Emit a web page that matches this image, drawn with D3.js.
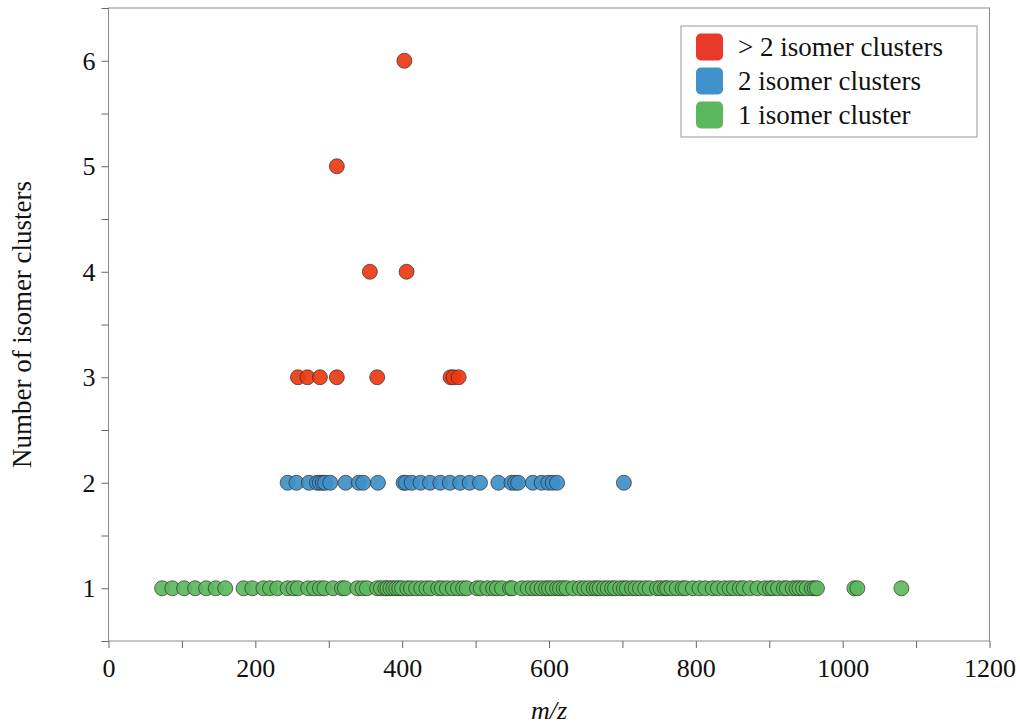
<!DOCTYPE html>
<html>
<head>
<meta charset="utf-8">
<script src="https://d3js.org/d3.v7.min.js"></script>
<style>
    body { margin: 0; background: #fff; }
    svg text { font-family: "Liberation Serif", "DejaVu Serif", serif; fill: #111; }
</style>
</head>
<body>
<svg id="chart" width="1020" height="727"></svg>
<script>
    // m/z values per number of isomer clusters
    var oneCluster = [73, 87, 103, 118, 133, 146, 159, 184, 196, 211, 220, 230, 244, 252, 258, 272, 280, 288, 294,
        306, 318, 322, 339, 346, 352, 366, 371, 377, 380, 384, 388, 392, 396, 400, 407, 412, 419, 426, 433, 439,
        449, 454, 461, 469, 476, 483, 488, 502, 507, 516, 524, 529, 536, 547, 550, 563, 571, 578, 584, 590, 596,
        600, 605, 611, 615, 620, 624, 633, 642, 648, 654, 661, 665, 669, 675, 680, 686, 690, 697, 702, 706, 713,
        718, 724, 731, 737, 747, 752, 758, 761, 767, 774, 782, 786, 796, 805, 813, 823, 830, 839, 846, 852, 860,
        865, 874, 884, 894, 901, 905, 912, 920, 924, 932, 937, 941, 946, 951, 958, 962, 965, 1016, 1020, 1080];
    var twoClusters = [244, 256, 273, 284, 288, 292, 295, 302, 323, 341, 347, 367, 402, 405, 413, 425, 438, 452,
        465, 479, 492, 506, 531, 549, 554, 558, 578, 590, 599, 605, 611, 702];
    var moreClusters = [
        { mz: 258, n: 3 }, { mz: 271, n: 3 }, { mz: 288, n: 3 }, { mz: 311, n: 3 }, { mz: 366, n: 3 },
        { mz: 466, n: 3 }, { mz: 470, n: 3 }, { mz: 477, n: 3 },
        { mz: 356, n: 4 }, { mz: 406, n: 4 },
        { mz: 311, n: 5 },
        { mz: 403, n: 6 }
    ];
    var xTicks = [0, 200, 400, 600, 800, 1000, 1200];
    var yTicks = [1, 2, 3, 4, 5, 6];
    var legendLabels = ["> 2 isomer clusters", "2 isomer clusters", "1 isomer cluster"];
    var legendColors = ["#e8392b", "#4192cc", "#5cb85c"];

    var svg = d3.select("#chart");
    var plotLeft = 108.5, plotRight = 989.5, plotTop = 8, plotBottom = 641;

    var x = d3.scaleLinear().domain([0, 1200]).range([plotLeft, plotRight]);
    var y = d3.scaleLinear().domain([0.5, 6.5]).range([plotBottom, plotTop]);

    // frame
    svg.append("rect")
        .attr("x", plotLeft).attr("y", plotTop)
        .attr("width", plotRight - plotLeft).attr("height", plotBottom - plotTop)
        .attr("fill", "none").attr("stroke", "#8a8a8a").attr("stroke-width", 1);

    // x axis: minor ticks every 100, labels every 200
    var xAxis = svg.append("g").attr("transform", "translate(0," + plotBottom + ")");
    xAxis.append("g")
        .call(d3.axisBottom(x).tickValues(d3.range(0, 1201, 100)).tickSize(7).tickFormat(""))
        .call(g => g.select(".domain").remove())
        .call(g => g.selectAll("line").attr("stroke", "#666"));
    xAxis.append("g")
        .call(d3.axisBottom(x).tickValues(xTicks).tickSize(0).tickPadding(18).tickFormat(d3.format("d")))
        .call(g => g.select(".domain").remove())
        .call(g => g.selectAll("text").style("font-size", "26px").attr("fill", "#111"));

    var yAxis = svg.append("g").attr("transform", "translate(" + plotLeft + ",0)");
    yAxis.append("g")
        .call(d3.axisLeft(y).tickValues(d3.range(0.5, 6.6, 0.5)).tickSize(7).tickFormat(""))
        .call(g => g.select(".domain").remove())
        .call(g => g.selectAll("line").attr("stroke", "#666"));
    yAxis.append("g")
        .call(d3.axisLeft(y).tickValues(yTicks).tickSize(0).tickPadding(13).tickFormat(d3.format("d")))
        .call(g => g.select(".domain").remove())
        .call(g => g.selectAll("text").style("font-size", "26px").attr("fill", "#111"));

    // axis titles
    svg.append("text")
        .attr("x", (plotLeft + plotRight) / 2).attr("y", 719)
        .attr("text-anchor", "middle")
        .style("font-size", "26px").style("font-style", "italic")
        .text("m/z");
    svg.append("text")
        .attr("transform", "translate(31," + ((plotTop + plotBottom) / 2) + ") rotate(-90)")
        .attr("text-anchor", "middle")
        .style("font-size", "27px")
        .text("Number of isomer clusters");

    // points
    var r = 7.5;
    function drawPoints(data, fill, getX, getY) {
        svg.append("g").selectAll("circle").data(data).join("circle")
            .attr("cx", d => x(getX(d)))
            .attr("cy", d => y(getY(d)))
            .attr("r", r)
            .attr("fill", fill)
            .attr("fill-opacity", 0.92)
            .attr("stroke", "#2a2a2a")
            .attr("stroke-opacity", 0.75)
            .attr("stroke-width", 0.9);
    }
    drawPoints(oneCluster, "#5cb85c", d => d, d => 1);
    drawPoints(twoClusters, "#3f8fc8", d => d, d => 2);
    drawPoints(moreClusters, "#ec3a12", d => d.mz, d => d.n);

    // legend
    var legend = svg.append("g");
    legend.append("rect")
        .attr("x", 681).attr("y", 26).attr("width", 296).attr("height", 111)
        .attr("fill", "#fff").attr("stroke", "#999").attr("stroke-width", 1);
    var rows = legend.selectAll("g.row").data(legendLabels).join("g")
        .attr("class", "row")
        .attr("transform", (d, i) => "translate(696," + (47 + i * 34) + ")");
    rows.append("rect")
        .attr("x", 0).attr("y", -13.5).attr("width", 27).attr("height", 27)
        .attr("rx", 5)
        .attr("fill", (d, i) => legendColors[i]);
    rows.append("text")
        .attr("x", 42).attr("y", 9)
        .style("font-size", "27px")
        .text(d => d);
</script>
</body>
</html>
